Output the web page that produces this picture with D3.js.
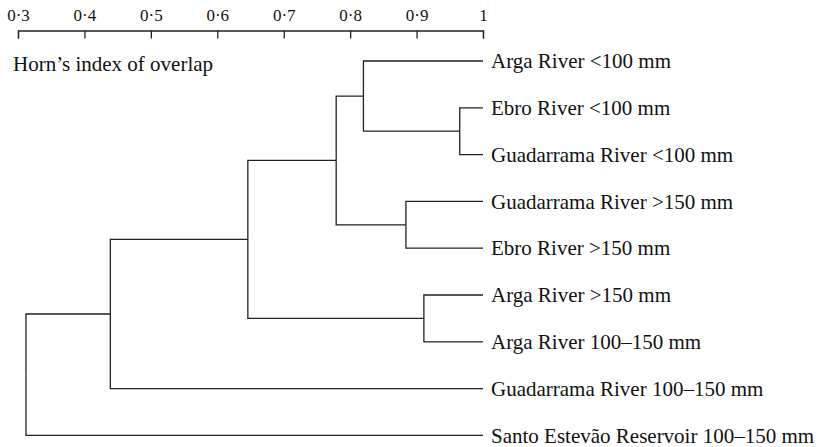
<!DOCTYPE html>
<html lang="en">
    <head>
        <meta charset="utf-8">
        <title>Horn's index dendrogram</title>
        <script type="text/javascript" src="https://cdnjs.cloudflare.com/ajax/libs/d3/7.8.5/d3.min.js"></script>
        <style>
            body { margin: 0; background: #fff; }
            svg text { font-family: "Liberation Serif", "Times New Roman", serif; fill: #111; }
            .axis path, .axis line { stroke: #222; stroke-width: 1.3; }
            .link { fill: none; stroke: #222; stroke-width: 1.3; }
        </style>
    </head>
    <body>
        <div id="chart"></div>
        <script type="text/javascript">
            // leaves, top to bottom
            var leaves = [
                "Arga River <100 mm",
                "Ebro River <100 mm",
                "Guadarrama River <100 mm",
                "Guadarrama River >150 mm",
                "Ebro River >150 mm",
                "Arga River >150 mm",
                "Arga River 100\u2013150 mm",
                "Guadarrama River 100\u2013150 mm",
                "Santo Estev\u00e3o Reservoir 100\u2013150 mm"
            ];
            // merges: node ids 0-8 are leaves, merge i makes node 9+i
            var mergeLeft   = [1, 0, 3, 10, 5, 12, 14, 15];
            var mergeRight  = [2, 9, 4, 11, 6, 13, 7, 8];
            var mergeHeight = [0.965, 0.82, 0.884, 0.779, 0.911, 0.646, 0.439, 0.312];
            var tickValues = [0.3, 0.4, 0.5, 0.6, 0.7, 0.8, 0.9, 1];

            var width = 820;
            var height = 447;
            var leafStep = 46.8;   // vertical distance between leaves

            // build the nested tree from the merge lists
            function build(id){
                if (id < leaves.length) return {name: leaves[id], value: 1};
                var m = id - leaves.length;
                return {value: mergeHeight[m], children: [build(mergeLeft[m]), build(mergeRight[m])]};
            }
            var root = d3.hierarchy(build(leaves.length + mergeHeight.length - 1));

            var xScale = d3.scaleLinear()
                            .domain([0.3, 1])
                            .range([18, 483]);

            // vertical placement from d3.cluster (leaves evenly spaced, parents at mean)
            // cluster keeps half a step of padding at each end
            d3.cluster().size([leafStep * leaves.length, 1]).separation(function(){ return 1; })(root);

            var svg = d3.select("#chart")
                    .append("svg")
                    .attr("width", width)
                    .attr("height", height);

            var g = svg.append("g").attr("transform", "translate(0," + (61 - leafStep / 2) + ")");

            var xAxis = d3.axisTop(xScale)
                    .tickValues(tickValues)
                    .tickSize(-8)
                    .tickPadding(9.5)
                    .tickFormat(function(d){ return d === 1 ? "1" : d3.format(".1f")(d).replace(".", "\u00b7"); });

            svg.append("g")
                .attr("class", "axis")
                .attr("transform", "translate(0,30.5)")
                .call(xAxis)
                .call(function(s){
                    s.selectAll("text").style("font-size", "17px").attr("fill", "#111");
                    s.selectAll("line, path").attr("stroke", "#222");
                });

            svg.append("text")
                .attr("x", 13)
                .attr("y", 71)
                .style("font-size", "21px")
                .text("Horn\u2019s index of overlap");

            // elbow links: from parent's vertical line over to the child
            g.selectAll("path.link")
                .data(root.links())
                .enter()
                .append("path")
                .attr("class", "link")
                .attr("d", function(l){
                    var px = xScale(l.source.data.value);
                    var cx = xScale(l.target.data.value);
                    return "M" + px + "," + l.source.x + "V" + l.target.x + "H" + cx;
                });

            g.selectAll("text.leaf")
                .data(root.leaves())
                .enter()
                .append("text")
                .attr("class", "leaf")
                .attr("x", xScale(1) + 8)
                .attr("y", function(d){ return d.x; })
                .attr("dy", "0.34em")
                .style("font-size", "21px")
                .text(function(d){ return d.data.name; });
        </script>
    </body>
</html>
